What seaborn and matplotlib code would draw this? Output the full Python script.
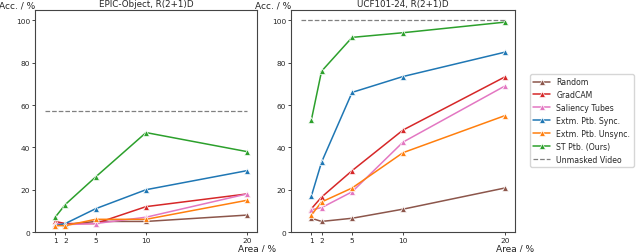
import matplotlib
matplotlib.use("Agg")
import matplotlib.pyplot as plt
import seaborn as sns

# x values (masked area in %)
area = [1, 2, 5, 10, 20]

methods = ["Random", "GradCAM", "Saliency Tubes", "Extm. Ptb. Sync.",
           "Extm. Ptb. Unsync.", "ST Ptb. (Ours)"]
colors = ["tab:brown", "tab:red", "tab:pink", "tab:blue", "tab:orange", "tab:green"]

# EPIC-Object accuracies
epic_random = [4, 3.5, 5, 5, 8]
epic_gradcam = [5, 4, 4, 12, 18]
epic_saliency = [4, 3.5, 4, 7, 18]
epic_sync = [3, 4, 11, 20, 29]
epic_unsync = [3, 3, 6, 6, 15]
epic_st = [7, 13, 26, 47, 38]
epic_unmasked = 57

# UCF101-24 accuracies
ucf_random = [6.5, 5, 6.5, 10.8, 20.8]
ucf_gradcam = [11, 16.5, 29, 48.2, 73.3]
ucf_saliency = [10.5, 11.5, 19, 42.5, 69]
ucf_sync = [17, 33, 66, 73.5, 85]
ucf_unsync = [8, 14.2, 20.8, 37.5, 55]
ucf_st = [53, 76, 92, 94.2, 99.2]
ucf_unmasked = 100

panels = [
    ("EPIC-Object, R(2+1)D",
     [epic_random, epic_gradcam, epic_saliency, epic_sync, epic_unsync, epic_st],
     epic_unmasked),
    ("UCF101-24, R(2+1)D",
     [ucf_random, ucf_gradcam, ucf_saliency, ucf_sync, ucf_unsync, ucf_st],
     ucf_unmasked),
]

sns.set_style("white")
plt.rcParams["font.family"] = ["DejaVu Sans"]

fig = plt.figure(figsize=(6.4, 2.53), dpi=100)
ax_pos = [[0.0547, 0.079, 0.347, 0.878], [0.4547, 0.079, 0.350, 0.878]]

for pos, (title, series, unmasked) in zip(ax_pos, panels):
    ax = fig.add_axes(pos)
    for name, vals, c in zip(methods, series, colors):
        sns.lineplot(x=area, y=vals, ax=ax, color=c, marker="^", markersize=4,
                     markeredgewidth=0.5, linewidth=1.1, label=name, legend=False)
    ax.hlines(unmasked, 0, max(area), colors="grey", linestyles="--",
              linewidth=0.9, label="Unmasked Video")
    ax.set_xlim(-1, 21)
    ax.set_ylim(0, 105)
    ax.set_xticks(area)
    ax.set_yticks([0, 20, 40, 60, 80, 100])
    ax.tick_params(labelsize=5.3, length=2, width=0.6, pad=1.5,
                   bottom=True, left=True)
    for s in ax.spines.values():
        s.set_color("#444444")
        s.set_linewidth(0.8)
    ax.set_title(title, fontsize=6.3, pad=3)
    ax.set_xlabel("Area / %", fontsize=6.5)
    ax.xaxis.set_label_coords(1.0, -0.05)
    ax.text(0, 1.0, "Acc. / %", transform=ax.transAxes, ha="right",
            va="bottom", fontsize=6.5)

handles, labels = ax.get_legend_handles_labels()
fig.legend(handles, labels, loc="center left", bbox_to_anchor=(0.822, 0.52),
           fontsize=5.6, frameon=True, edgecolor="#cccccc", handlelength=2.2)

fig.savefig("out.png", dpi=100)
